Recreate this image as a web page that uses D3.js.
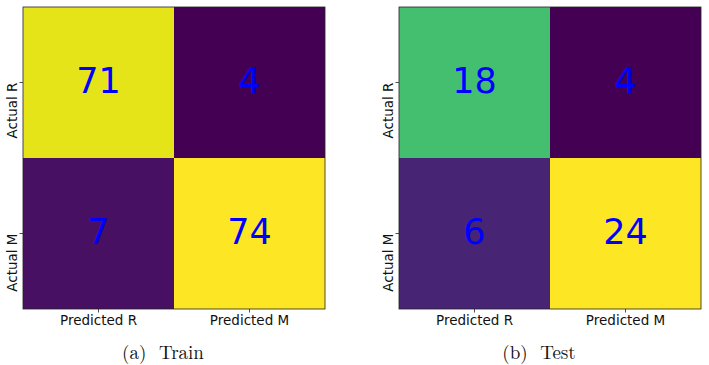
<!DOCTYPE html>
<html>
<head>
<meta charset="utf-8">
<script src="https://cdn.jsdelivr.net/npm/d3@7"></script>
<style>
  body { margin: 0; background: #fff; }
  svg { display: block; }
</style>
</head>
<body>
<svg id="chart" width="709" height="365"></svg>
<script>
var predLabels = ["Predicted R", "Predicted M"],
    actualLabels = ["Actual R", "Actual M"];

// rows = actual, cols = predicted
var trainValues = [[71, 4], [7, 74]],
    testValues = [[18, 4], [6, 24]];

var panels = [
  {name: "(a)", title: "Train", values: trainValues, left: 23, capX: 163},
  {name: "(b)", title: "Test", values: testValues, left: 399, capX: 539}
];

var svg = d3.select("#chart"),
    plotTop = 7,
    size = 302;

panels.forEach(function(p) {
  var g = svg.append("g").attr("transform", "translate(" + p.left + "," + plotTop + ")");

  var x = d3.scaleBand().domain(predLabels).range([0, size]);
  var y = d3.scaleBand().domain(actualLabels).range([0, size]);

  var flat = [];
  p.values.forEach(function(row, i) {
    row.forEach(function(v, j) {
      flat.push({actual: actualLabels[i], pred: predLabels[j], value: v});
    });
  });

  var color = d3.scaleSequential(d3.interpolateViridis)
      .domain(d3.extent(flat, function(d) { return d.value; }));

  g.selectAll("rect.cell")
      .data(flat)
    .enter().append("rect")
      .attr("class", "cell")
      .attr("x", function(d) { return x(d.pred); })
      .attr("y", function(d) { return y(d.actual); })
      .attr("width", x.bandwidth())
      .attr("height", y.bandwidth())
      .attr("fill", function(d) { return color(d.value); });

  g.selectAll("text.val")
      .data(flat)
    .enter().append("text")
      .attr("class", "val")
      .attr("x", function(d) { return x(d.pred) + x.bandwidth() / 2; })
      .attr("y", function(d) { return y(d.actual) + y.bandwidth() / 2; })
      .attr("dy", "0.3em")
      .attr("text-anchor", "middle")
      .attr("font-family", "DejaVu Sans")
      .attr("font-size", 35)
      .attr("fill", "#0000ff")
      .text(function(d) { return d.value; });

  g.append("rect")
      .attr("width", size)
      .attr("height", size)
      .attr("fill", "none")
      .attr("stroke", "#222")
      .attr("stroke-width", 0.8);

  g.append("g")
      .attr("transform", "translate(0," + size + ")")
      .call(customXAxis, x);

  g.append("g")
      .call(customYAxis, y);

  svg.append("text")
      .attr("x", p.capX)
      .attr("y", 359)
      .attr("text-anchor", "middle")
      .attr("font-family", "Latin Modern Roman, CMU Serif, Liberation Serif, serif")
      .attr("font-size", 19)
      .attr("fill", "#111")
      .style("white-space", "pre")
      .text(p.name + "  " + p.title);
});

function customXAxis(g, x) {
  g.call(d3.axisBottom(x).tickSize(3.5).tickPadding(3));
  g.attr("font-family", null).attr("font-size", null);
  g.select(".domain").remove();
  g.selectAll(".tick line").attr("stroke", "#222").attr("stroke-width", 0.8);
  g.selectAll(".tick text").attr("y", 16).attr("dy", 0)
      .attr("font-family", "DejaVu Sans").attr("font-size", 13.5).attr("fill", "#111");
}

function customYAxis(g, y) {
  g.call(d3.axisLeft(y).tickSize(3.5));
  g.attr("font-family", null).attr("font-size", null);
  g.select(".domain").remove();
  g.selectAll(".tick line").attr("stroke", "#222").attr("stroke-width", 0.8);
  g.selectAll(".tick text")
      .attr("x", null).attr("dy", null)
      .attr("transform", "translate(-6,0) rotate(-90)")
      .attr("text-anchor", "end")
      .attr("font-family", "DejaVu Sans").attr("font-size", 13.5).attr("fill", "#111");
}
</script>
</body>
</html>
